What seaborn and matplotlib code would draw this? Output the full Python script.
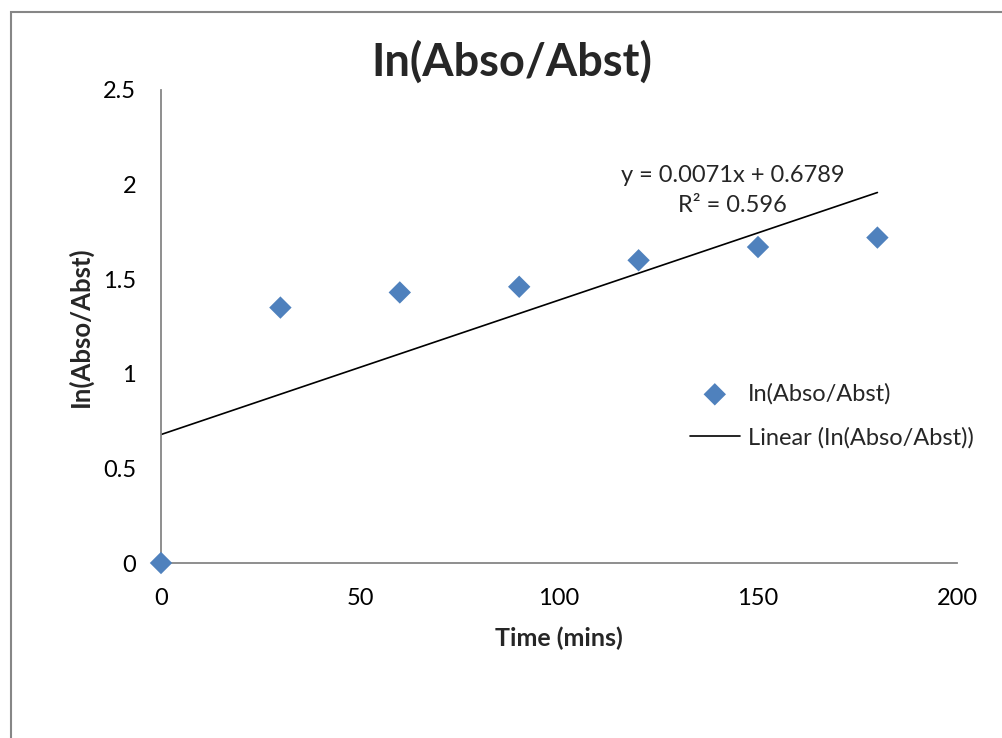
import matplotlib
matplotlib.use("Agg")
import matplotlib.pyplot as plt
import seaborn as sns
import pandas as pd
from matplotlib.patches import Rectangle

# Data
time_mins = [0, 30, 60, 90, 120, 150, 180]
ln_ratio = [0.0, 1.35, 1.43, 1.46, 1.60, 1.67, 1.72]
x_ticks = [0, 50, 100, 150, 200]
y_ticks = [0, 0.5, 1, 1.5, 2, 2.5]
y_tick_labels = ["0", "0.5", "1", "1.5", "2", "2.5"]
series_name = "In(Abso/Abst)"
trend_name = "Linear (In(Abso/Abst))"
x_label = "Time (mins)"
eq_text = "y = 0.0071x + 0.6789"
r2_text = "R\u00b2 = 0.596"

df = pd.DataFrame({x_label: time_mins, series_name: ln_ratio})

sns.set_style("white")
plt.rcParams["font.family"] = ["Lato", "DejaVu Sans"]

fig = plt.figure(figsize=(10.02, 7.38), dpi=100)
ax = fig.add_axes([161/1002, 1 - 563/738, (957-161)/1002, (563-90)/738])

grey = "#868686"
blue = "#4F81BD"

sns.regplot(data=df, x=x_label, y=series_name, ax=ax, scatter=False,
            ci=None, truncate=True, label=trend_name,
            line_kws=dict(color="black", lw=1.2))
sns.scatterplot(data=df, x=x_label, y=series_name, ax=ax, marker="D",
                s=130, color=blue, edgecolor="none", label=series_name,
                zorder=5, clip_on=False)

ax.set_xlim(0, 200)
ax.set_ylim(0, 2.5)
ax.set_xticks(x_ticks)
ax.set_yticks(y_ticks)
ax.set_yticklabels(y_tick_labels)
for s in ["top", "right"]:
    ax.spines[s].set_visible(False)
for s in ["left", "bottom"]:
    ax.spines[s].set_color(grey)
    ax.spines[s].set_linewidth(1.3)
ax.tick_params(axis="both", direction="out", length=6, width=1.3, color=grey,
               labelsize=17, labelcolor="black")
ax.tick_params(axis="x", pad=12)
ax.tick_params(axis="y", pad=12)

ax.set_xlabel(x_label, fontsize=18, fontweight="bold", va="center")
ax.set_ylabel(series_name, fontsize=18.5, fontweight="bold", va="center")
ax.xaxis.set_label_coords(0.5, (563 - 638) / 473)
ax.yaxis.set_label_coords((80 - 161) / 796, 0.5)

fig.text(0.511, 1 - 62/738, series_name, fontsize=32.5, fontweight="bold",
         ha="center", va="center")

ax.text(143.7, 2.05, eq_text, fontsize=17, ha="center", va="center")
ax.text(143.7, 1.89, r2_text, fontsize=17, ha="center", va="center")

handles, labels = ax.get_legend_handles_labels()
order = [labels.index(series_name), labels.index(trend_name)]
leg = ax.legend([handles[i] for i in order], [labels[i] for i in order],
                loc="upper left", bbox_to_anchor=((690 - 161) / 796, (563 - 383) / 473),
                frameon=False, borderpad=0, borderaxespad=0,
                fontsize=17, handlelength=2.1, labelspacing=0.95,
                handletextpad=0.34)

fig.patches.append(Rectangle((11/1002, -0.1), 1.2, 1 - 12/738 + 0.1,
                             transform=fig.transFigure, fill=False,
                             edgecolor=grey, lw=1.5))

fig.savefig("out.png", dpi=100)
